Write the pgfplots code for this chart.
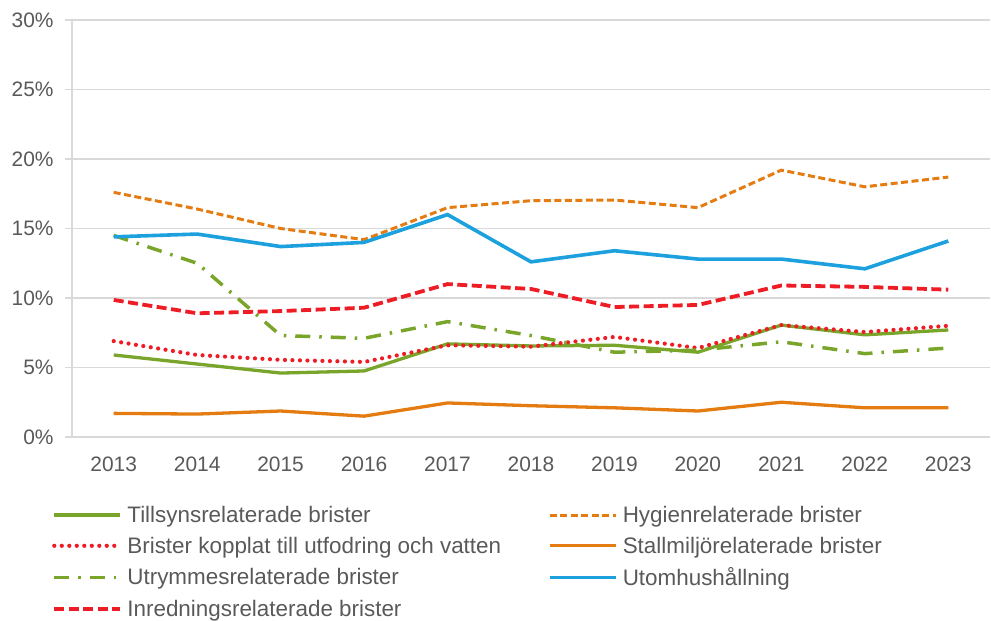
\documentclass[border=0pt]{standalone}
\usepackage{fontspec}
\setmainfont{Liberation Sans}
\usepackage{pgfplots}
\pgfplotsset{compat=1.18}
\definecolor{Grid}{HTML}{D9D9D9}
\definecolor{Txt}{HTML}{595959}
\definecolor{Green}{HTML}{7AA52B}
\definecolor{Orange}{HTML}{E47C12}
\definecolor{Red}{HTML}{EE1D25}
\definecolor{Blue}{HTML}{1DA1DE}

\begin{document}
\begin{tikzpicture}[x=1bp,y=1bp]
  \begin{axis}[
    scale only axis,
    width=918bp, height=417bp,
    xmin=2012.5, xmax=2023.5,
    ymin=0, ymax=30,
    xtick={2013,2014,...,2023},
    ytick={0,5,...,30},
    yticklabel={\pgfmathprintnumber{\tick}\%},
    /pgf/number format/1000 sep={},
    /pgf/number format/assume math mode=true,
    axis lines*=left,
    axis line style={draw=Grid,line width=1.3bp},
    ymajorgrids=true,
    major grid style={draw=Grid,line width=1.3bp},
    xtick style={draw=none},
    ytick style={draw=Grid,line width=1.3bp},
    tick align=outside,
    major tick length=7bp,
    tick label style={font=\fontsize{21}{25}\selectfont,color=Txt},
    xticklabel style={yshift=-9bp},
    yticklabel style={xshift=-8bp},
    legend columns=2,
    legend cell align=left,
    legend style={draw=none,fill=none,inner sep=0pt,
      at={(rel axis cs:0,0)},anchor=north west,xshift=-20bp,yshift=-67bp,
      font=\fontsize{22.5}{27}\selectfont,text=Txt,
      row sep=9bp,
      nodes={inner xsep=5bp,inner ysep=2bp},
      /tikz/every even column/.append style={column sep=42bp}},
    legend image code/.code={\draw[#1] (0bp,0bp) -- (66bp,0bp);},
    clip=false]
    \coordinate (SW) at (rel axis cs:0,0);
    \addplot[Green,line width=3.3bp] coordinates {
      (2013,5.9)(2014,5.25)(2015,4.6)(2016,4.75)(2017,6.7)(2018,6.55)
      (2019,6.6)(2020,6.1)(2021,8.05)(2022,7.35)(2023,7.7)};
    \addlegendentry{Tillsynsrelaterade brister}
    \addplot[Orange,line width=3bp,dash pattern=on 7bp off 3.5bp] coordinates {
      (2013,17.6)(2014,16.4)(2015,15.0)(2016,14.2)(2017,16.5)(2018,17.0)
      (2019,17.05)(2020,16.5)(2021,19.2)(2022,18.0)(2023,18.7)};
    \addlegendentry{Hygienrelaterade brister}
    \addplot[Red,line width=4.2bp,line cap=round,dash pattern=on 0bp off 7.5bp] coordinates {
      (2013,6.9)(2014,5.9)(2015,5.55)(2016,5.4)(2017,6.6)(2018,6.5)
      (2019,7.2)(2020,6.4)(2021,8.05)(2022,7.55)(2023,8.0)};
    \addlegendentry{Brister kopplat till utfodring och vatten}
    \addplot[Orange,line width=3.3bp] coordinates {
      (2013,1.7)(2014,1.65)(2015,1.87)(2016,1.5)(2017,2.45)(2018,2.25)
      (2019,2.1)(2020,1.87)(2021,2.5)(2022,2.1)(2023,2.1)};
    \addlegendentry{Stallmiljörelaterade brister}
    \addplot[Green,line width=3.5bp,dash pattern=on 15bp off 9bp on 2.5bp off 9bp] coordinates {
      (2013,14.5)(2014,12.5)(2015,7.3)(2016,7.1)(2017,8.3)(2018,7.3)
      (2019,6.1)(2020,6.25)(2021,6.85)(2022,6.0)(2023,6.4)};
    \addlegendentry{Utrymmesrelaterade brister}
    \addplot[Blue,line width=3.6bp] coordinates {
      (2013,14.4)(2014,14.6)(2015,13.7)(2016,14.0)(2017,16.0)(2018,12.6)
      (2019,13.4)(2020,12.8)(2021,12.8)(2022,12.1)(2023,14.1)};
    \addlegendentry{Utomhushållning}
    \addplot[Red,line width=3.8bp,dash pattern=on 10bp off 4.5bp] coordinates {
      (2013,9.86)(2014,8.9)(2015,9.06)(2016,9.3)(2017,11.0)(2018,10.65)
      (2019,9.35)(2020,9.5)(2021,10.9)(2022,10.8)(2023,10.6)};
    \addlegendentry{Inredningsrelaterade brister}
  \end{axis}
  \pgfresetboundingbox
  \path[use as bounding box] ([shift={(-72bp,-184bp)}]SW) rectangle ([shift={(919bp,437bp)}]SW);
\end{tikzpicture}
\end{document}
